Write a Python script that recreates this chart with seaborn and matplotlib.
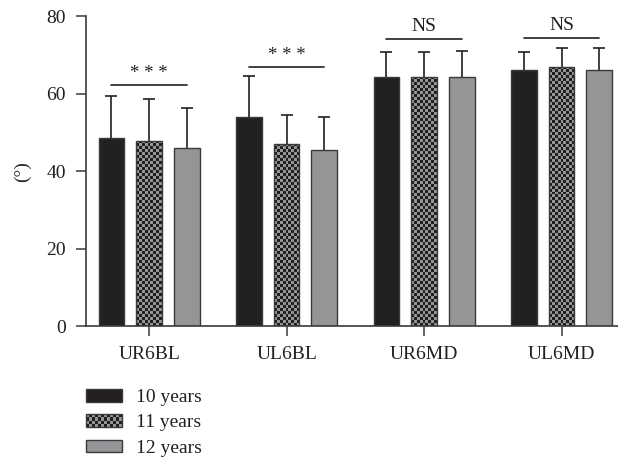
import matplotlib
matplotlib.use("Agg")
import matplotlib.pyplot as plt
import numpy as np
import pandas as pd
import seaborn as sns
from matplotlib.colors import ListedColormap
from matplotlib.legend_handler import HandlerBase
from matplotlib.patches import Patch, Rectangle

categories = ["UR6BL", "UL6BL", "UR6MD", "UL6MD"]
groups = ["10 years", "11 years", "12 years"]
means_10 = [48.5, 53.9, 64.3, 66.1]
means_11 = [47.9, 47.1, 64.3, 67.0]
means_12 = [46.1, 45.4, 64.3, 66.2]
sd_10 = [10.9, 10.6, 6.4, 4.7]
sd_11 = [10.6, 7.5, 6.4, 4.8]
sd_12 = [10.2, 8.6, 6.7, 5.6]
sig_labels = ["* * *", "* * *", "NS", "NS"]
sig_heights = [62.2, 66.9, 74.1, 74.3]

BLACK = "#231f20"
GRAY = "#939598"
EDGE = "#3a3a3a"

sns.set_theme(style="ticks")
plt.rcParams["font.family"] = ["Liberation Serif", "DejaVu Serif"]
plt.rcParams["axes.edgecolor"] = EDGE
plt.rcParams["xtick.color"] = EDGE
plt.rcParams["ytick.color"] = EDGE
plt.rcParams["text.color"] = BLACK
plt.rcParams["xtick.labelcolor"] = BLACK
plt.rcParams["ytick.labelcolor"] = BLACK

df = pd.DataFrame({
    "cat": categories * 3,
    "group": np.repeat(groups, len(categories)),
    "mean": means_10 + means_11 + means_12,
    "sd": sd_10 + sd_11 + sd_12,
})

fig = plt.figure(figsize=(6.18, 4.62), dpi=100)
ax = fig.add_axes([0.139, 0.294, 0.861, 0.671])

sns.barplot(
    data=df, x="cat", y="mean", hue="group", order=categories, hue_order=groups,
    palette=[BLACK, GRAY, GRAY], errorbar=None, width=0.822, gap=0.318,
    edgecolor=EDGE, linewidth=1.0, legend=False, ax=ax, zorder=2,
)

ax.set_xlim(-0.46, 3.41)
ax.set_ylim(0, 80)
ax.set_yticks([0, 20, 40, 60, 80])

# error bars (upper side only)
for cont, sds in zip(ax.containers, [sd_10, sd_11, sd_12]):
    for bar, sd in zip(cont, sds):
        cx = bar.get_x() + bar.get_width() / 2
        eb = ax.errorbar(cx, bar.get_height(), yerr=[[0], [sd]], fmt="none",
                         ecolor=BLACK, elinewidth=1.2, capsize=4.5, capthick=1.2, zorder=1)
        caps = eb[1]
        if len(caps) == 2:
            caps[0].set_visible(False)

# checkerboard fill for the 11-year bars
fig.canvas.draw()
checker_cmap = ListedColormap([GRAY, BLACK])
for bar in ax.containers[1]:
    x0, w, h = bar.get_x(), bar.get_width(), bar.get_height()
    p0 = ax.transData.transform((x0, 0))
    p1 = ax.transData.transform((x0 + w, h))
    nx = max(1, int(round((p1[0] - p0[0]) / 3.0)))
    ny = max(1, int(round((p1[1] - p0[1]) / 3.0)))
    ii, jj = np.indices((ny, nx))
    img = ax.imshow((ii + jj) % 2, cmap=checker_cmap, extent=(x0, x0 + w, 0, h),
                    aspect="auto", interpolation="nearest", zorder=2.1)
    img.set_clip_path(bar)
    bar.set_facecolor("none")
    bar.set_zorder(2.2)

ax.set_xlim(-0.46, 3.41)
ax.set_ylim(0, 80)

# significance brackets
for i, (lab, yv) in enumerate(zip(sig_labels, sig_heights)):
    b0 = ax.containers[0][i]
    b2 = ax.containers[2][i]
    xa = b0.get_x() + b0.get_width() / 2
    xb = b2.get_x() + b2.get_width() / 2
    ax.plot([xa, xb], [yv, yv], color=BLACK, lw=1.2, clip_on=False)
    if lab == "NS":
        ax.text((xa + xb) / 2, yv + 1.0, lab, ha="center", va="bottom", fontsize=14)
    else:
        ax.text((xa + xb) / 2, yv + 0.8, lab, ha="center", va="bottom", fontsize=13.5)

sns.despine(ax=ax)
ax.spines["left"].set_linewidth(1.2)
ax.spines["bottom"].set_linewidth(1.2)
ax.tick_params(axis="both", length=7.5, width=1.1, labelsize=14, pad=7)
ax.set_xlabel("")
ax.set_ylabel("(°)", fontsize=14, labelpad=11)


class CheckerHandler(HandlerBase):
    def create_artists(self, legend, orig_handle, xdescent, ydescent,
                       width, height, fontsize, trans):
        x0, y0 = -xdescent, -ydescent
        arts = [Rectangle((x0, y0), width, height, facecolor=GRAY, lw=0, transform=trans)]
        nx, ny = 12, 4
        cw, ch = width / nx, height / ny
        for i in range(nx):
            for j in range(ny):
                if (i + j) % 2 == 0:
                    arts.append(Rectangle((x0 + i * cw, y0 + j * ch), cw, ch,
                                          facecolor=BLACK, lw=0, transform=trans))
        arts.append(Rectangle((x0, y0), width, height, facecolor="none",
                              edgecolor=EDGE, lw=1.0, transform=trans))
        return arts


checker_handle = Patch(facecolor=GRAY, edgecolor=EDGE, label=groups[1])
handles = [
    Patch(facecolor=BLACK, edgecolor=EDGE, label=groups[0]),
    checker_handle,
    Patch(facecolor=GRAY, edgecolor=EDGE, label=groups[2]),
]
fig.legend(handles=handles, loc="upper left", bbox_to_anchor=(0.139, 1 - 389 / 462),
           frameon=False, fontsize=14, handlelength=1.85, handleheight=0.62,
           labelspacing=0.42, handletextpad=0.75, borderpad=0, borderaxespad=0,
           handler_map={checker_handle: CheckerHandler()})

fig.savefig("out.png", dpi=100)
